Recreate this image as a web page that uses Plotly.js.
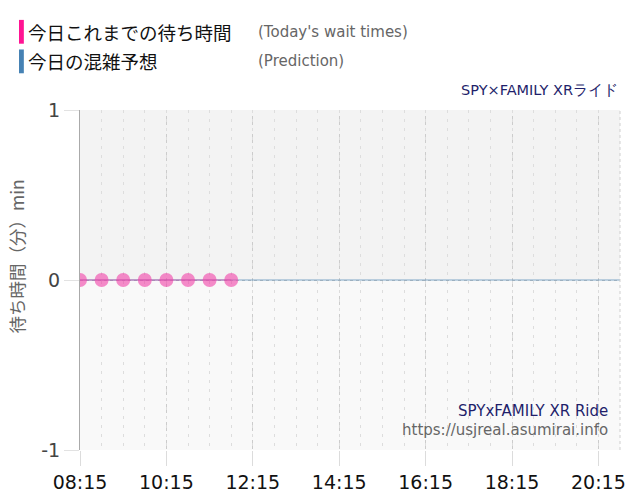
<!DOCTYPE html>
<html>
<head>
<meta charset="utf-8">
<script src="https://cdn.plot.ly/plotly-3.0.1.min.js"></script>
<style>
	html, body { margin: 0; padding: 0; background: #fff; }
	#graph { width: 640px; height: 500px; }
</style>
</head>
<body>
<div id="graph"></div>
<script>
var day = "2024-01-01 ";

// today's wait times so far (min)
var waitTimes = ["08:15", "08:45", "09:15", "09:45", "10:15", "10:45", "11:15", "11:45"];
var waitValues = [0, 0, 0, 0, 0, 0, 0, 0];

// prediction for the whole day (min)
var predTimes = ["08:15", "08:45", "09:15", "09:45", "10:15", "10:45", "11:15", "11:45",
	"12:15", "12:45", "13:15", "13:45", "14:15", "14:45", "15:15", "15:45",
	"16:15", "16:45", "17:15", "17:45", "18:15", "18:45", "19:15", "19:45",
	"20:15", "20:45"];
var predValues = [0, 0, 0, 0, 0, 0, 0, 0, 0, 0, 0, 0, 0, 0, 0, 0,
	0, 0, 0, 0, 0, 0, 0, 0, 0, 0];

var xStart = "08:15";
var xEnd = "20:45";
var yTicks = [-1, 0, 1];

var latin = "Verdana, DejaVu Sans, sans-serif";
var jp = "Noto Sans CJK JP, DejaVu Sans, sans-serif";

function withDay(list) {
	return list.map(function (t) { return day + t; });
}

var prediction = {
	x: withDay(predTimes),
	y: predValues,
	type: "scatter",
	mode: "lines",
	line: {color: "rgba(70,130,180,0.45)", width: 1.5},
	hoverinfo: "skip",
	showlegend: false
};

// drawn on the overlay axis so it sits above the prediction line
var today = {
	x: withDay(waitTimes),
	y: waitValues,
	xaxis: "x2",
	type: "scatter",
	mode: "lines+markers",
	line: {color: "rgba(200,60,160,0.45)", width: 1.5},
	marker: {color: "rgba(240,70,170,0.62)", size: 14},
	showlegend: false
};

var layout = {
	width: 640,
	height: 500,
	margin: {l: 80, r: 20, t: 110, b: 50},
	paper_bgcolor: "#ffffff",
	plot_bgcolor: "#f9f9f9",
	font: {family: latin, color: "#444"},
	xaxis: {
		type: "date",
		range: [day + xStart, day + xEnd],
		tick0: day + xStart,
		dtick: 2 * 60 * 60 * 1000,
		tickformat: "%H:%M",
		tickfont: {family: latin, size: 19, color: "#111"},
		ticks: "outside",
		ticklen: 15,
		tickcolor: "#dcdcdc",
		showgrid: true,
		gridcolor: "#cccccc",
		griddash: "dot",
		zeroline: false,
		showline: false,
		fixedrange: true
	},
	// half-hour dashed grid
	xaxis2: {
		type: "date",
		overlaying: "x",
		matches: "x",
		anchor: "y",
		side: "bottom",
		tick0: day + xStart,
		dtick: 30 * 60 * 1000,
		showticklabels: false,
		ticks: "",
		showgrid: true,
		gridcolor: "#dddddd",
		griddash: "3px,6px",
		zeroline: false,
		showline: false,
		fixedrange: true
	},
	yaxis: {
		range: [-1, 1],
		tickvals: yTicks,
		ticktext: yTicks.map(String),
		tickfont: {family: latin, size: 19, color: "#444"},
		ticks: "outside",
		ticklen: 15,
		tickcolor: "#e2e2e2",
		showgrid: true,
		gridcolor: "#c8c8c8",
		griddash: "dot",
		zeroline: false,
		showline: true,
		linecolor: "#aaaaaa",
		linewidth: 1,
		fixedrange: true
	},
	shapes: [
		// darker upper half
		{type: "rect", xref: "paper", yref: "y", x0: 0, x1: 1, y0: 0, y1: 1,
			fillcolor: "#f3f3f3", line: {width: 0}, layer: "below"},
		// right border
		{type: "line", xref: "paper", yref: "paper", x0: 1, x1: 1, y0: 0, y1: 1,
			line: {color: "#cfcfcf", width: 1, dash: "dot"}},
		// legend colour bars
		{type: "rect", xref: "paper", yref: "paper", x0: -0.113, x1: -0.104, y0: 1.195, y1: 1.265,
			fillcolor: "#ff1493", line: {width: 0}},
		{type: "rect", xref: "paper", yref: "paper", x0: -0.113, x1: -0.104, y0: 1.108, y1: 1.178,
			fillcolor: "#4682b4", line: {width: 0}}
	],
	annotations: [
		{text: "待ち時間（分）min", xref: "paper", yref: "paper", x: -0.118, y: 0.57,
			xanchor: "center", yanchor: "middle", textangle: -90, showarrow: false,
			font: {family: jp, size: 17.5, color: "#666"}},
		{text: "今日これまでの待ち時間", xref: "paper", yref: "paper", x: -0.1, y: 1.23,
			xanchor: "left", yanchor: "middle", showarrow: false,
			font: {family: jp, size: 18.5, color: "#111"}},
		{text: "(Today's wait times)", xref: "paper", yref: "paper", x: 0.326, y: 1.23,
			xanchor: "left", yanchor: "middle", showarrow: false,
			font: {family: latin, size: 15, color: "#666"}},
		{text: "今日の混雑予想", xref: "paper", yref: "paper", x: -0.1, y: 1.143,
			xanchor: "left", yanchor: "middle", showarrow: false,
			font: {family: jp, size: 18.5, color: "#111"}},
		{text: "(Prediction)", xref: "paper", yref: "paper", x: 0.326, y: 1.143,
			xanchor: "left", yanchor: "middle", showarrow: false,
			font: {family: latin, size: 15, color: "#666"}},
		{text: "SPY×FAMILY XRライド", xref: "paper", yref: "paper", x: 1, y: 1.06,
			xanchor: "right", yanchor: "middle", showarrow: false,
			font: {family: latin, size: 14.5, color: "#1f1f6b"}},
		{text: "SPYxFAMILY XR Ride", xref: "paper", yref: "paper", x: 0.982, y: 0.115,
			xanchor: "right", yanchor: "middle", showarrow: false,
			font: {family: latin, size: 15, color: "#1f1f6b"}},
		{text: "https://usjreal.asumirai.info", xref: "paper", yref: "paper", x: 0.982, y: 0.058,
			xanchor: "right", yanchor: "middle", showarrow: false,
			font: {family: latin, size: 15, color: "#666"}}
	]
};

var config = {displayModeBar: false, staticPlot: true};
Plotly.newPlot("graph", [prediction, today], layout, config);
</script>
</body>
</html>
